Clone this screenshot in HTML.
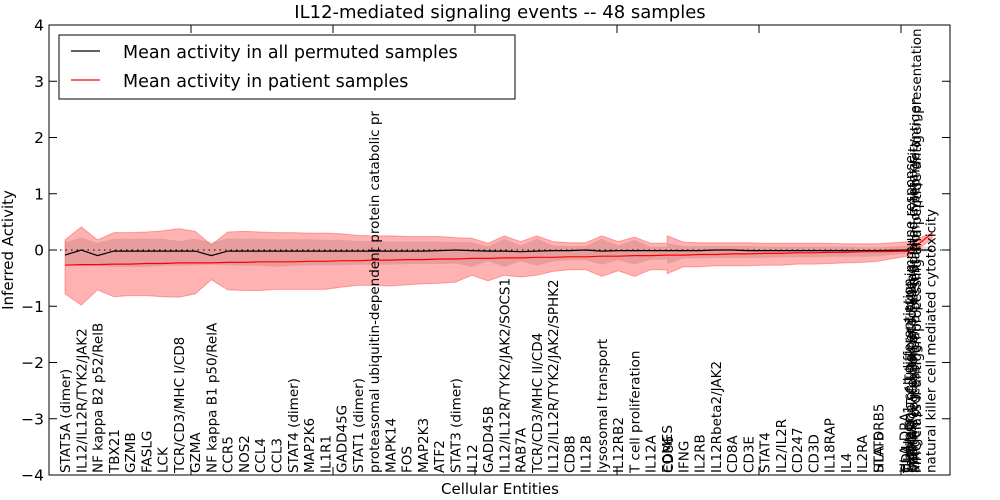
<!DOCTYPE html>
<html><head><meta charset="utf-8"><style>
html,body{margin:0;padding:0;background:#fff;}
svg{display:block;font-family:"DejaVu Sans","Liberation Sans",sans-serif;}
</style></head><body>
<svg id="chart" width="1000" height="500" viewBox="0 0 1000 500">
<text x="500" y="18" font-size="18" text-anchor="middle">IL12-mediated signaling events -- 48 samples</text>
<g id="plot"></g>
<text x="500" y="494" font-size="15" text-anchor="middle">Cellular Entities</text>
<text transform="translate(13,250) rotate(-90)" font-size="15" text-anchor="middle">Inferred Activity</text>
<g>
<rect x="59" y="35" width="456" height="64" fill="#fff" stroke="#000" stroke-width="1"/>
<line x1="71" y1="51" x2="100" y2="51" stroke="#000" stroke-width="1.2"/>
<text x="123" y="58" font-size="17.5">Mean activity in all permuted samples</text>
<line x1="71" y1="80" x2="100" y2="80" stroke="#f00" stroke-width="1.2"/>
<text x="123" y="87" font-size="17.5">Mean activity in patient samples</text>
</g>
</svg>
<script>
const categories = ["STAT5A (dimer)","IL12/IL12R/TYK2/JAK2","NF kappa B2 p52/RelB","TBX21","GZMB","FASLG","LCK","TCR/CD3/MHC I/CD8","GZMA","NF kappa B1 p50/RelA","CCR5","NOS2","CCL4","CCL3","STAT4 (dimer)","MAP2K6","IL1R1","GADD45G","STAT1 (dimer)","proteasomal ubiquitin-dependent protein catabolic pr","MAPK14","FOS","MAP2K3","ATF2","STAT3 (dimer)","IL12","GADD45B","IL12/IL12R/TYK2/JAK2/SOCS1","RAB7A","TCR/CD3/MHC II/CD4","IL12/IL12R/TYK2/JAK2/SPHK2","CD8B","IL12B","lysosomal transport","IL12RB2","T cell proliferation","IL12A","EOMES","IFNG","IL2RB","IL12Rbeta2/JAK2","CD8A","CD3E","STAT4","IL2/IL2R","CD247","CD3D","IL18RAP","IL4","IL2RA","STAT6","HLA-DRB5","HLA-DRA","CD4","T-helper 1 cell differentiation","regulation of T-helper 1 type immune response","cytotoxic T cell targeted killing","positive regulation of T cell mediated cytotoxicity","antigen processing and presentation of peptide antigen","MHC class II antigen processing and peptide antigen presentation","natural killer cell mediated cytotoxicity"];
const catIndex = [0,1,2,3,4,5,6,7,8,9,10,11,12,13,14,15,16,17,18,19,20,21,22,23,24,25,26,27,28,29,30,31,32,33,34,35,36,37,38,39,40,41,42,43,44,45,46,47,48,49,50,50,51.6,51.7,51.8,51.9,52.0,52.1,52.2,52.3,53.2];
const overlapLabels = ["CD86"];
const overlapIndex = [37];
const seriesIndex = [0,1,2,3,4,5,6,7,8,9,10,11,12,13,14,15,16,17,18,19,20,21,22,23,24,25,26,27,28,29,30,31,32,33,34,35,36,37,37.01,38,39,40,41,42,43,44,45,46,47,48,49,50,51.9,53.3];
const permutedMean = [-0.09,0,-0.1,-0.02,-0.02,-0.02,-0.02,-0.02,-0.02,-0.1,-0.02,-0.02,-0.02,-0.02,-0.02,-0.02,-0.02,-0.02,-0.02,-0.02,-0.02,-0.02,-0.02,-0.01,0,-0.01,-0.02,-0.02,-0.03,-0.02,-0.01,-0.01,0,-0.02,-0.01,-0.01,-0.01,-0.01,-0.01,-0.01,-0.01,0,0,-0.01,-0.01,-0.01,-0.01,-0.01,-0.01,-0.01,-0.01,-0.01,0,0];
const patientMean = [-0.27,-0.26,-0.26,-0.25,-0.25,-0.24,-0.24,-0.23,-0.23,-0.23,-0.22,-0.22,-0.21,-0.21,-0.21,-0.2,-0.2,-0.19,-0.19,-0.18,-0.18,-0.17,-0.17,-0.16,-0.16,-0.15,-0.15,-0.14,-0.14,-0.13,-0.13,-0.12,-0.12,-0.11,-0.11,-0.1,-0.1,-0.09,-0.09,-0.09,-0.08,-0.08,-0.07,-0.07,-0.06,-0.06,-0.05,-0.05,-0.04,-0.04,-0.03,-0.03,-0.02,0.3];
const outerUpper = [0.18,0.41,0.18,0.31,0.31,0.32,0.34,0.38,0.33,0.09,0.32,0.33,0.32,0.31,0.31,0.3,0.3,0.29,0.26,0.25,0.25,0.24,0.24,0.24,0.22,0.21,0.12,0.25,0.15,0.25,0.15,0.13,0.13,0.25,0.15,0.23,0.12,0.12,0.25,0.14,0.13,0.13,0.13,0.13,0.12,0.12,0.12,0.12,0.12,0.11,0.11,0.11,0.15,0.3];
const outerLower = [-0.78,-0.98,-0.71,-0.83,-0.81,-0.81,-0.83,-0.84,-0.78,-0.53,-0.71,-0.72,-0.72,-0.7,-0.7,-0.7,-0.7,-0.66,-0.63,-0.63,-0.64,-0.62,-0.6,-0.59,-0.57,-0.45,-0.55,-0.45,-0.48,-0.45,-0.38,-0.35,-0.35,-0.47,-0.37,-0.47,-0.35,-0.35,-0.42,-0.3,-0.3,-0.28,-0.28,-0.28,-0.27,-0.27,-0.25,-0.25,-0.24,-0.23,-0.22,-0.2,-0.1,0.2];
const innerUpper = [0.14,0.22,0.13,0.2,0.2,0.2,0.2,0.16,0.2,0.14,0.2,0.2,0.2,0.19,0.19,0.19,0.18,0.18,0.16,0.16,0.15,0.15,0.15,0.15,0.14,0.14,0.06,0.2,0.08,0.2,0.08,0.07,0.07,0.2,0.08,0.18,0.06,0.06,0.12,0.07,0.07,0.07,0.07,0.07,0.06,0.06,0.06,0.06,0.06,0.06,0.05,0.05,0.08,0.05];
const innerLower = [-0.27,-0.29,-0.28,-0.3,-0.3,-0.3,-0.28,-0.28,-0.27,-0.26,-0.27,-0.28,-0.28,-0.3,-0.28,-0.27,-0.27,-0.27,-0.26,-0.26,-0.26,-0.25,-0.25,-0.25,-0.24,-0.3,-0.2,-0.3,-0.2,-0.28,-0.2,-0.18,-0.18,-0.26,-0.18,-0.26,-0.17,-0.17,-0.25,-0.15,-0.15,-0.14,-0.14,-0.14,-0.14,-0.13,-0.13,-0.13,-0.12,-0.12,-0.12,-0.11,-0.06,-0.02];
const yTicks = [-4,-3,-2,-1,0,1,2,3,4];
const xTickCount = [0,1,2,3,4,5,6];

const NS = "http://www.w3.org/2000/svg";
const L = 49, R = 950, T = 25, B = 475;
const x = i => 65 + 16.27 * i;
const y = v => 250 - v * 56.25;
const plot = document.getElementById('plot');
function mk(tag, attrs, parent) {
  const el = document.createElementNS(NS, tag);
  for (const k in attrs) el.setAttribute(k, attrs[k]);
  (parent || plot).appendChild(el);
  return el;
}
function bandPath(up, lo) {
  let d = "";
  seriesIndex.forEach((s, i) => { d += (i ? "L" : "M") + x(s).toFixed(1) + "," + y(up[i]).toFixed(1); });
  for (let i = seriesIndex.length - 1; i >= 0; i--) d += "L" + x(seriesIndex[i]).toFixed(1) + "," + y(lo[i]).toFixed(1);
  return d + "Z";
}
function linePath(vals) {
  return seriesIndex.map((s, i) => (i ? "L" : "M") + x(s).toFixed(1) + "," + y(vals[i]).toFixed(1)).join("");
}
const ob = mk('path', {d: bandPath(outerUpper, outerLower), fill: "rgba(255,0,0,0.3)", stroke: "rgba(255,0,0,0.3)", "stroke-width": 1});


const ib = mk('path', {d: bandPath(innerUpper, innerLower), fill: "rgba(140,70,70,0.2)", stroke: "none"});


const zl = mk('line', {x1: L, x2: R, y1: y(0), y2: y(0), stroke: "#000", "stroke-dasharray": "1.5,4", "stroke-width": 1});


const bl = mk('path', {d: linePath(permutedMean), fill: "none", stroke: "#000", "stroke-width": 1.2});


const rl = mk('path', {d: linePath(patientMean), fill: "none", stroke: "#f00", "stroke-width": 1.2});


categories.forEach((c, i) => {
  const px = x(catIndex[i]) + 5;
  const t = mk('text', {transform: `translate(${px.toFixed(1)},473) rotate(-90)`, "font-size": 13.5});
  t.textContent = c;
  
  
});
overlapLabels.forEach((c, i) => {
  const t = mk('text', {transform: `translate(${(x(overlapIndex[i]) + 6).toFixed(1)},473) rotate(-90)`, "font-size": 13.5});
  t.textContent = c;
  
  
});
const fr = mk('rect', {x: L, y: T, width: R - L, height: B - T, fill: "none", stroke: "#000", "stroke-width": 1});


yTicks.forEach(v => {
  const yy = y(v);
  const tl = mk('line', {x1: L, x2: L + 8, y1: yy, y2: yy, stroke: "#000"});
  
  
  const tr = mk('line', {x1: R - 8, x2: R, y1: yy, y2: yy, stroke: "#000"});
  
  
  const t = mk('text', {x: 44, y: yy + 5.5, "font-size": 15.5, "text-anchor": "end"});
  t.textContent = v < 0 ? "\u2212" + Math.abs(v) : String(v);
  
  
});
xTickCount.forEach(k => {
  const xx = L + 142 * k;
  if (k === 0) return;
  const a = mk('line', {x1: xx, x2: xx, y1: T, y2: T + 8, stroke: "#000"});
  
  
  const b = mk('line', {x1: xx, x2: xx, y1: B - 8, y2: B, stroke: "#000"});
  
  
});
</script>
</body></html>
